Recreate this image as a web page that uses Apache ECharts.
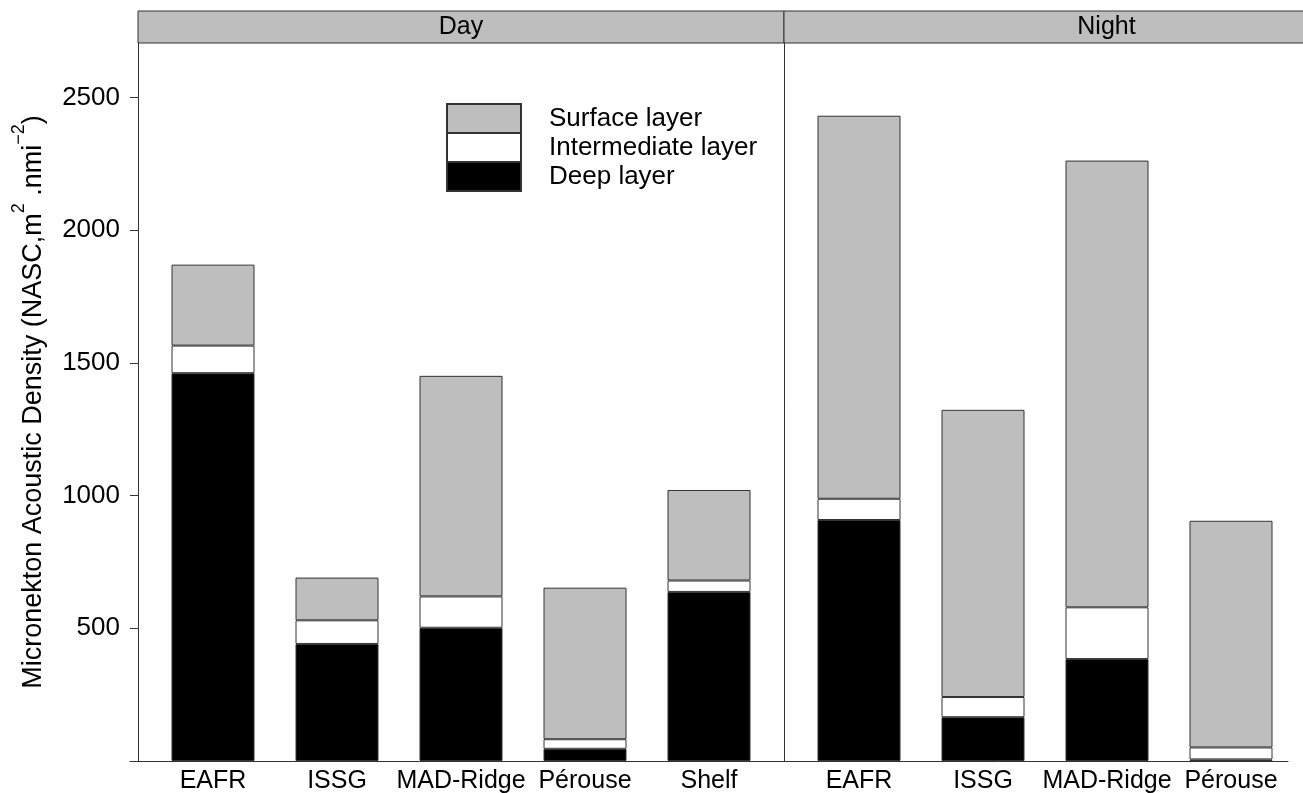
<!DOCTYPE html>
<html><head><meta charset="utf-8">
<script src="https://cdn.jsdelivr.net/npm/echarts@6/dist/echarts.min.js"></script>
<style>html,body{margin:0;padding:0;background:#fff}#c{width:1303px;height:793px}</style>
</head><body><div id="c"></div>
<script>
// ---- data ----
const dayCategories = ['EAFR', 'ISSG', 'MAD-Ridge', 'Pérouse', 'Shelf'];
const nightCategories = ['EAFR', 'ISSG', 'MAD-Ridge', 'Pérouse', ''];
const dayDeep = [1461, 441, 502, 46, 637];
const dayIntermediate = [104, 89, 118, 36, 43];
const daySurface = [305, 161, 831, 571, 341];
const nightDeep = [908, 165, 384, 6, null];
const nightIntermediate = [80, 76, 195, 45, null];
const nightSurface = [1443, 1082, 1683, 854, null];
const yTicks = [500, 1000, 1500, 2000, 2500];
const panelNames = ['Day', 'Night'];
const layerNames = ['Deep layer', 'Intermediate layer', 'Surface layer'];
const legendOrder = ['Surface layer', 'Intermediate layer', 'Deep layer'];

// ---- styles ----
const FONT = 'Liberation Sans, Arial, sans-serif';
const AX = '#333';
const layerColors = ['#000000', '#ffffff', '#bebebe'];
const YMAX = 2705;

const chart = echarts.init(document.getElementById('c'), null, {renderer: 'canvas'});

const dayLayers = [dayDeep, dayIntermediate, daySurface];
const nightLayers = [nightDeep, nightIntermediate, nightSurface];

function barSeries(layers, axisIdx, stack) {
  return layers.map((arr, i) => ({
    type: 'bar', name: layerNames[i], stack: stack,
    xAxisIndex: axisIdx, yAxisIndex: axisIdx,
    barWidth: 83, data: arr,
    itemStyle: {color: layerColors[i], borderColor: AX, borderWidth: 1},
    emphasis: {disabled: true}, animation: false
  }));
}

const G = {outerBoundsMode: 'none', containLabel: false};

const option = {
  backgroundColor: '#ffffff',
  animation: false,
  textStyle: {fontFamily: FONT},
  grid: [
    Object.assign({left: 151, width: 620, top: 43, bottom: 32}, G),            // Day bars
    Object.assign({left: 797, width: 620, top: 43, bottom: 32}, G),            // Night bars
    Object.assign({left: 130, width: 1158, top: 43, bottom: 32}, G),           // baseline frame
    Object.assign({left: 138, width: 646, top: 11, height: 32, show: true, backgroundColor: '#bebebe', borderColor: AX, borderWidth: 1}, G),
    Object.assign({left: 784, width: 645, top: 11, height: 32, show: true, backgroundColor: '#bebebe', borderColor: AX, borderWidth: 1}, G)
  ],
  legend: {
    data: legendOrder, orient: 'vertical', left: 446, top: 103, padding: 0,
    itemGap: -2, itemWidth: 74, itemHeight: 29, icon: 'rect', selectedMode: false,
    textStyle: {fontSize: 26, color: '#000', fontFamily: FONT, padding: [0, 0, 0, 23], lineHeight: 29}
  },
  xAxis: [
    {type: 'category', gridIndex: 0, data: dayCategories,
     axisLine: {show: false}, axisTick: {show: false},
     axisLabel: {interval: 0, fontSize: 25, color: '#000', margin: 8, fontFamily: FONT}},
    {type: 'category', gridIndex: 1, data: nightCategories,
     axisLine: {show: false}, axisTick: {show: false},
     axisLabel: {interval: 0, fontSize: 25, color: '#000', margin: 8, fontFamily: FONT}},
    {type: 'value', gridIndex: 2, min: 0, max: 1,
     axisLine: {show: true, lineStyle: {color: AX, width: 1}}, axisTick: {show: false},
     axisLabel: {show: false}, splitLine: {show: false}},
    {type: 'category', gridIndex: 3, data: [panelNames[0]],
     axisLine: {show: false}, axisTick: {show: false},
     axisLabel: {fontSize: 25, color: '#000', verticalAlign: 'middle', margin: -16, fontFamily: FONT}},
    {type: 'category', gridIndex: 4, data: [panelNames[1]],
     axisLine: {show: false}, axisTick: {show: false},
     axisLabel: {fontSize: 25, color: '#000', verticalAlign: 'middle', margin: -16, fontFamily: FONT}}
  ],
  yAxis: [
    {type: 'value', gridIndex: 0, min: 0, max: YMAX, offset: 13,
     axisLine: {show: true, lineStyle: {color: AX, width: 1}},
     axisTick: {show: true, length: 8, customValues: yTicks, lineStyle: {color: AX}},
     axisLabel: {customValues: yTicks, fontSize: 26, color: '#000', margin: 18, fontFamily: FONT,
                 formatter: v => String(v)},
     splitLine: {show: false},
     name: '{a|Micronekton Acoustic Density (NASC,m}{s|2}{a| .nmi}{s|\u22122}{a|)}',
     nameLocation: 'middle', nameGap: 91, nameRotate: 90,
     nameTextStyle: {
       fontFamily: FONT, color: '#000',
       rich: {
         a: {fontSize: 27, fontFamily: FONT, color: '#000', lineHeight: 37, verticalAlign: 'bottom'},
         s: {fontSize: 18, fontFamily: FONT, color: '#000', lineHeight: 18, verticalAlign: 'top'}
       }
     }},
    {type: 'value', gridIndex: 1, min: 0, max: YMAX, offset: 13,
     axisLine: {show: true, lineStyle: {color: AX, width: 1}},
     axisTick: {show: false}, axisLabel: {show: false}, splitLine: {show: false}},
    {type: 'value', gridIndex: 2, min: 0, max: 1, show: false},
    {type: 'value', gridIndex: 3, min: 0, max: 1, show: false},
    {type: 'value', gridIndex: 4, min: 0, max: 1, show: false}
  ],
  series: [].concat(barSeries(dayLayers, 0, 'day'), barSeries(nightLayers, 1, 'night'))
};
chart.setOption(option);
</script>
</body></html>
